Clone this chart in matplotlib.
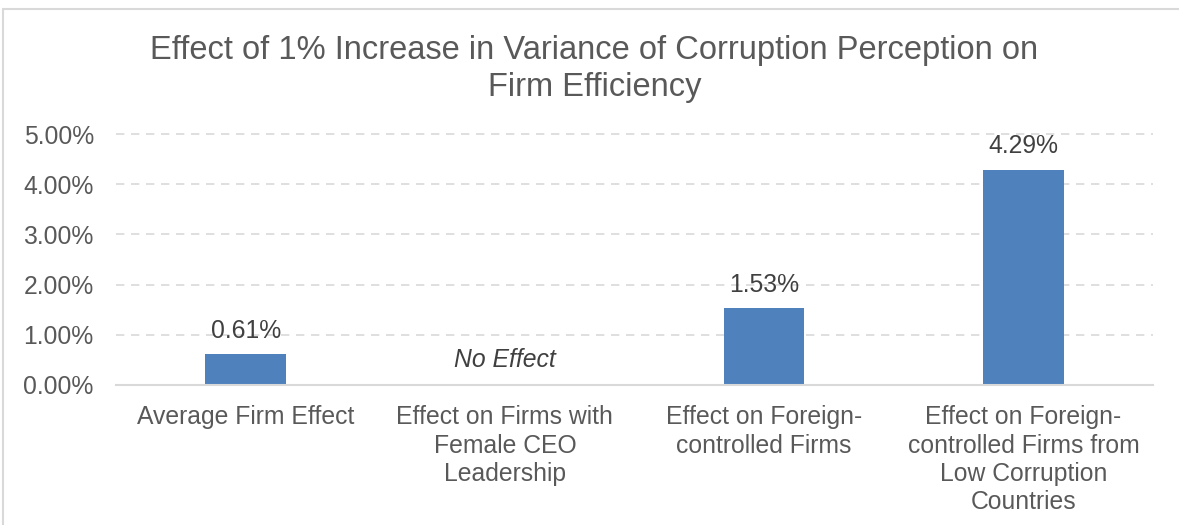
import matplotlib
matplotlib.use("Agg")
import matplotlib.pyplot as plt
from matplotlib.patches import Rectangle
from matplotlib.ticker import FuncFormatter

categories = ["Average Firm Effect",
              "Effect on Firms with\nFemale CEO\nLeadership",
              "Effect on Foreign-\ncontrolled Firms",
              "Effect on Foreign-\ncontrolled Firms from\nLow Corruption\nCountries"]
values = [0.61, 0.0, 1.53, 4.29]
value_labels = ["0.61%", "No Effect", "1.53%", "4.29%"]
yticks = [0, 1, 2, 3, 4, 5]
title = "Effect of 1% Increase in Variance of Corruption Perception on\nFirm Efficiency"

plt.rcParams['font.family'] = ['Liberation Sans', 'DejaVu Sans']
txt = "#595959"
grid = "#d9d9d9"
bar_color = "#4f81bd"
fs = 17.8

fig = plt.figure(figsize=(11.79, 5.25), dpi=100)
W, H = 1179, 525
ax = fig.add_axes([116 / W, 1 - 385 / H, (1153 - 116) / W, (385 - 134) / H * 5.5 / 5])
ax.set_ylim(0, 5.5)
ax.set_xlim(-0.5, 3.5)

# outer chart frame
fig.patches.append(Rectangle((3 / W, -0.1), 1.2, 1 - 9 / H + 0.1, transform=fig.transFigure,
                             fill=False, edgecolor=grid, linewidth=1.5, zorder=0))

x = range(len(categories))
ax.bar(x, values, width=0.31, color=bar_color, zorder=3)
for xi, v, lab in zip(x, values, value_labels):
    if lab == "No Effect":
        ax.text(xi, 0.5, lab, ha="center", va="center", fontsize=fs, style="italic", color="#404040")
    else:
        ax.text(xi, v + 0.47, lab, ha="center", va="center", fontsize=fs, color="#404040")

ax.set_yticks(yticks)
ax.yaxis.set_major_formatter(FuncFormatter(lambda v, p: f"{v:.2f}%"))
ax.set_xticks(list(x))
ax.set_xticklabels(categories, fontsize=fs, color=txt, linespacing=1.23)
ax.tick_params(axis="y", labelsize=fs, colors=txt, length=0, pad=16)
ax.tick_params(axis="x", length=0, pad=14.5)
for t in ax.get_yticklabels():
    t.set_color(txt)

for s in ["top", "right", "left"]:
    ax.spines[s].set_visible(False)
ax.spines["bottom"].set_color(grid)
ax.spines["bottom"].set_linewidth(1.5)
ax.spines["bottom"].set_zorder(4)
for yv in yticks[1:]:
    ax.axhline(yv, color=grid, linestyle=(0, (5, 4)), linewidth=1.2, zorder=1)

fig.text(594.5 / W, 1 - 69 / H, title, ha="center", va="center",
         fontsize=23.5, color=txt, linespacing=1.25)

fig.savefig("out.png", dpi=100)
